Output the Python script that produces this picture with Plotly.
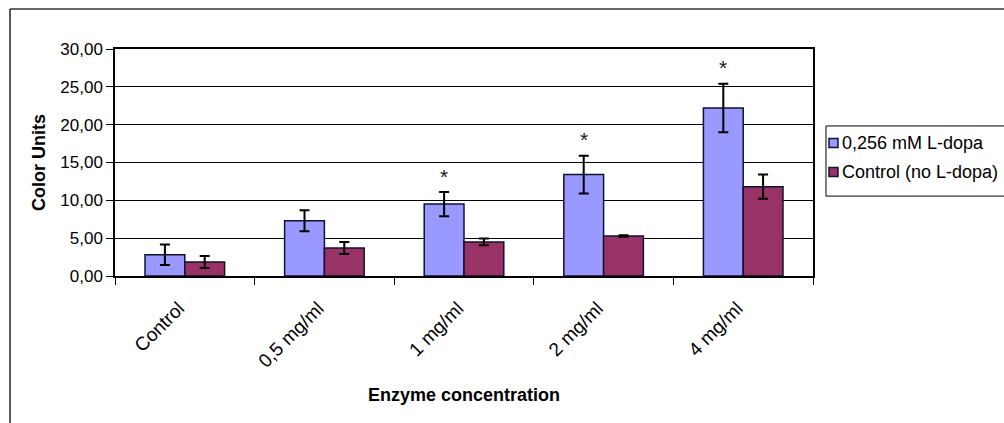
import plotly.graph_objects as go

categories = ["Control", "0,5 mg/ml", "1 mg/ml", "2 mg/ml", "4 mg/ml"]
ldopa_values = [2.8, 7.3, 9.5, 13.4, 22.2]
ldopa_errors = [1.35, 1.4, 1.6, 2.5, 3.2]
control_values = [1.85, 3.7, 4.5, 5.3, 11.8]
control_errors = [0.8, 0.8, 0.45, 0.1, 1.6]
significant = [False, False, True, True, True]
y_ticks = [0, 5, 10, 15, 20, 25, 30]
series_names = ["0,256 mM L-dopa", "Control (no L-dopa)"]
series_colors = ["#9999FF", "#993366"]

FONT = "Liberation Sans, Arial, sans-serif"
EDGE = "#111133"

fig = go.Figure()
fig.add_trace(go.Bar(
    name=series_names[0], x=categories, y=ldopa_values,
    marker=dict(color=series_colors[0], line=dict(color=EDGE, width=1.5)),
    error_y=dict(type="data", array=ldopa_errors, color="#000000", thickness=2, width=5),
))
fig.add_trace(go.Bar(
    name=series_names[1], x=categories, y=control_values,
    marker=dict(color=series_colors[1], line=dict(color=EDGE, width=1.5)),
    error_y=dict(type="data", array=control_errors, color="#000000", thickness=2, width=5),
))

for c, v, e, s in zip(categories, ldopa_values, ldopa_errors, significant):
    if s:
        fig.add_annotation(x=c, y=v + e, xref="x", yref="y", text="*", showarrow=False,
                           xshift=-20, yshift=16, yanchor="middle",
                           font=dict(family=FONT, size=21, color="#222222"))

# outer chart frame (left and top edges visible)
fig.add_shape(type="line", xref="paper", yref="paper", x0=-0.1504, x1=1.28, y0=1.176, y1=1.176,
              line=dict(color="#333333", width=1.5))
fig.add_shape(type="line", xref="paper", yref="paper", x0=-0.1504, x1=-0.1504, y0=1.176, y1=-0.7,
              line=dict(color="#222222", width=1.5))

# legend box (Excel style), drawn in paper coordinates
fig.add_shape(type="rect", xref="paper", yref="paper", x0=1.0186, x1=1.30, y0=0.352, y1=0.661,
              line=dict(color="#000000", width=1), fillcolor="white")
row_y = [0.586, 0.458]
for name, col, ry in zip(series_names, series_colors, row_y):
    fig.add_shape(type="rect", xref="paper", yref="paper", x0=1.0229, x1=1.0358,
                  y0=ry - 0.0198, y1=ry + 0.0198, line=dict(color=EDGE, width=1.5), fillcolor=col)
    fig.add_annotation(xref="paper", yref="paper", x=1.0387, y=ry, xanchor="left", yanchor="middle",
                       text=name, showarrow=False, font=dict(family=FONT, size=18, color="#000000"))

fig.update_layout(
    width=1004, height=423,
    margin=dict(l=115, r=191, t=49, b=147, autoexpand=False),
    paper_bgcolor="white", plot_bgcolor="white",
    barmode="group", bargap=0.43, bargroupgap=0,
    separators=",.",
    showlegend=False,
    font=dict(family=FONT, color="#000000"),
    xaxis=dict(
        showline=True, linecolor="#000000", linewidth=1.5, mirror=True,
        ticks="outside", tickson="boundaries", ticklen=7, tickcolor="#000000",
        tickangle=-45, tickfont=dict(family=FONT, size=19, color="#000000"),
        ticklabelstandoff=12, ticklabelshift=-6,
        title=dict(text="<b>Enzyme concentration</b>", font=dict(family=FONT, size=18), standoff=18),
    ),
    yaxis=dict(
        range=[0, 30], tickvals=y_ticks, tickformat=".2f",
        showline=True, linecolor="#000000", linewidth=1.5, mirror=True,
        showgrid=True, gridcolor="#000000", gridwidth=1,
        ticks="outside", ticklen=7, tickcolor="#000000",
        tickfont=dict(family=FONT, size=17, color="#000000"),
        title=dict(text="<b>Color Units</b>", font=dict(family=FONT, size=18), standoff=10),
        zeroline=False,
    ),
)

fig.write_html("out.html")
